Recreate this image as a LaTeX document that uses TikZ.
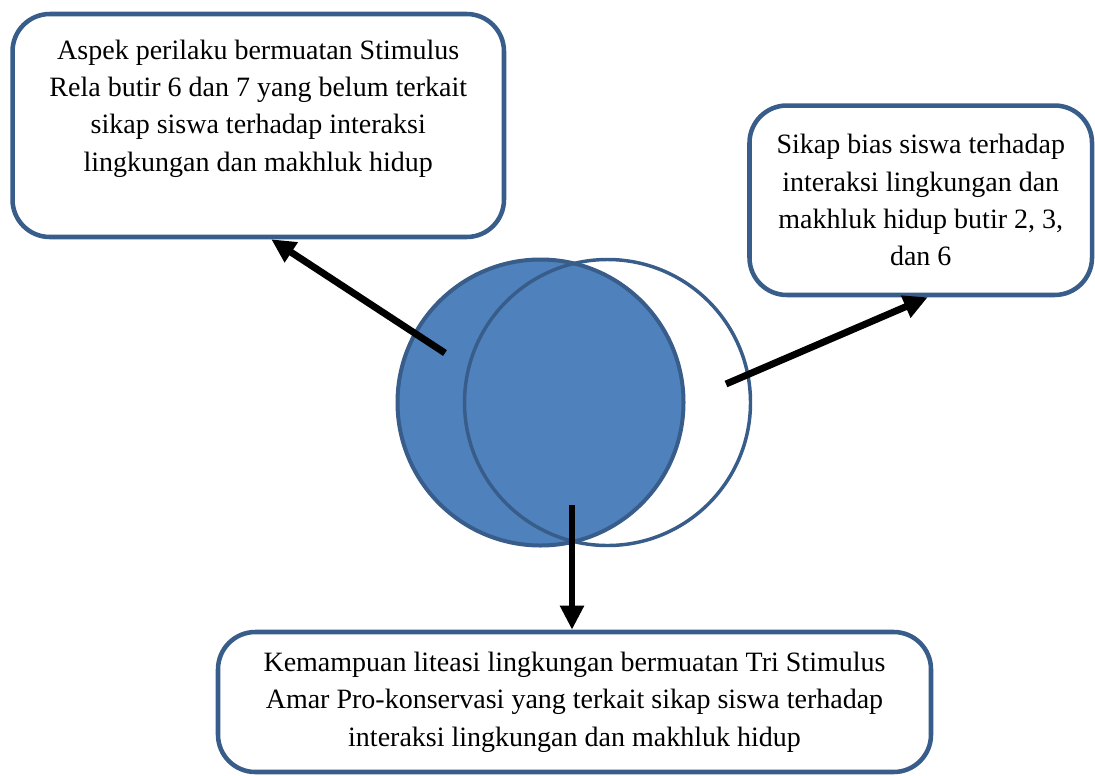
\documentclass[tikz,border=0pt]{standalone}
\usepackage{fontspec}
\setmainfont{Liberation Serif}
\usepackage{tikz}
\usetikzlibrary{arrows.meta, calc}
\definecolor{frameblue}{RGB}{56,93,138}
\definecolor{vennblue}{RGB}{79,129,189}

\begin{document}
\begin{tikzpicture}[
    x=0.75pt, y=-0.75pt,
    font=\fontsize{21}{28}\selectfont,
    box/.style={rectangle, rounded corners=28pt, draw=frameblue, fill=white,
                line width=3.4pt, text centered, align=center, inner sep=0pt},
    venn/.style={circle, draw=frameblue, minimum size=214.5pt, inner sep=0pt},
    arr/.style={-{Triangle[length=18pt, width=17pt]}, line width=5.2pt, draw=black}
  ]
    \useasboundingbox (0,0) rectangle (1095,775);

    % Venn circles
    \node[venn, fill=vennblue, line width=3pt] (vennL) at (540.5,402.5) {};
    \node[venn, line width=2.6pt] (vennR) at (607.5,402.5) {};

    % Text boxes
    \node[box, minimum width=368.6pt, minimum height=167.25pt, text depth=30pt]
        (aspek) at (258.25,125.5)
        {Aspek perilaku bermuatan Stimulus\\Rela butir 6 dan 7 yang belum terkait\\
         sikap siswa terhadap interaksi\\lingkungan dan makhluk hidup};
    \node[box, minimum width=256.9pt, minimum height=142.1pt]
        (sikap) at (920.75,200.25)
        {Sikap bias siswa terhadap\\interaksi lingkungan dan\\
         makhluk hidup butir 2, 3,\\dan 6};
    \node[box, minimum width=534.75pt, minimum height=105pt]
        (kemampuan) at (574.5,702)
        {Kemampuan liteasi lingkungan bermuatan Tri Stimulus\\
         Amar Pro-konservasi yang terkait sikap siswa terhadap\\
         interaksi lingkungan dan makhluk hidup};

    % Arrows out of the circles
    \coordinate (fromL) at (445,353);
    \coordinate (fromR) at (726,384);
    \coordinate (fromB) at (572,505);

    \draw[arr] (fromL) -- ($(aspek.south)+(13,0)$);
    \draw[arr] (fromR) -- ($(sikap.south)+(7,0)$);
    \draw[arr] (fromB) -- (fromB |- kemampuan.north);
  \end{tikzpicture}
\end{document}
